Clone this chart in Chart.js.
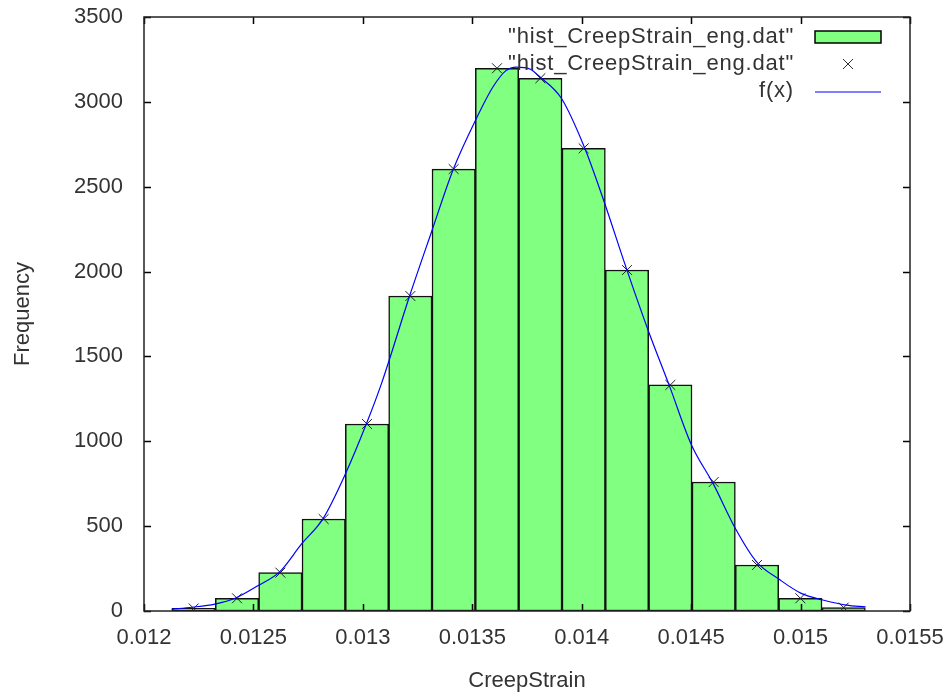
<!DOCTYPE html>
<html lang="en">

<head>
    <meta charset="UTF-8">
    <title>hist_CreepStrain_eng</title>
    <script src="https://cdn.jsdelivr.net/npm/chart.js"></script>
    <style>
        html, body {
            margin: 0;
            padding: 0;
            background: #fff;
        }

        #chartBox {
            width: 950px;
            height: 694px;
        }
    </style>
</head>

<body>
    <div id="chartBox">
        <canvas id="histCanvas"></canvas>
    </div>

    <script>
        // bin centres (CreepStrain) and counts
        const binCenters = [0.012227, 0.012425, 0.012623, 0.012821, 0.013019, 0.013217, 0.013415, 0.013613,
            0.013811, 0.014009, 0.014207, 0.014405, 0.014603, 0.014801, 0.014999, 0.015197];
        const frequencies = [15, 75, 226, 542, 1102, 1856, 2604, 3198, 3139, 2726, 2009, 1332, 760, 271, 75, 20];

        // fitted curve f(x)
        const fitX = [0.012126, 0.012220, 0.012324, 0.012416, 0.012522, 0.012621, 0.012720, 0.012819, 0.012918,
            0.013017, 0.013085, 0.013215, 0.013314, 0.013412, 0.013519, 0.013595, 0.013654, 0.013702, 0.013763,
            0.013808, 0.013907, 0.014014, 0.014097, 0.014204, 0.014303, 0.014402, 0.014501, 0.014600, 0.014706,
            0.014798, 0.014904, 0.015003, 0.015102, 0.015209, 0.015297];
        const fitY = [10, 22, 41, 75, 150, 232, 395, 546, 801,
            1106, 1340, 1862, 2235, 2599, 2903, 3089, 3184, 3205, 3194,
            3148, 3021, 2727, 2432, 2019, 1656, 1322, 980, 752, 477,
            291, 185, 104, 65, 35, 25];

        const xTickLabels = ['0.012', '0.0125', '0.013', '0.0135', '0.014', '0.0145', '0.015', '0.0155'];
        const yTickLabels = ['0', '500', '1000', '1500', '2000', '2500', '3000', '3500'];
        const seriesNames = ['"hist_CreepStrain_eng.dat"', '"hist_CreepStrain_eng.dat"', 'f(x)'];

        const textColor = '#333';
        const fontFamily = '"Liberation Sans", Arial, sans-serif';

        Chart.defaults.font.family = fontFamily;
        Chart.defaults.font.size = 22;
        Chart.defaults.color = textColor;

        // gnuplot style frame: border plus ticks pointing inwards on all four sides
        const framePlugin = {
            id: 'frame',
            afterDatasetsDraw(chart) {
                const { ctx, chartArea: a, scales } = chart;
                const len = 7;
                ctx.save();
                ctx.strokeStyle = '#000';
                ctx.lineWidth = 1.5;
                ctx.beginPath();
                scales.x.ticks.forEach(t => {
                    const px = Math.round(scales.x.getPixelForValue(t.value)) + 0.5;
                    ctx.moveTo(px, a.bottom);
                    ctx.lineTo(px, a.bottom - len);
                    ctx.moveTo(px, a.top);
                    ctx.lineTo(px, a.top + len);
                });
                scales.y.ticks.forEach(t => {
                    const py = Math.round(scales.y.getPixelForValue(t.value)) + 0.5;
                    ctx.moveTo(a.left, py);
                    ctx.lineTo(a.left + len, py);
                    ctx.moveTo(a.right, py);
                    ctx.lineTo(a.right - len, py);
                });
                ctx.stroke();
                ctx.strokeStyle = '#222';
                ctx.strokeRect(a.left, a.top, a.right - a.left, a.bottom - a.top);
                ctx.restore();
            }
        };

        // key in the top right corner, text right aligned with the sample after it
        const keyPlugin = {
            id: 'key',
            afterDraw(chart) {
                const { ctx } = chart;
                const textRight = 794;
                const sampleLeft = 815;
                const sampleRight = 881;
                const rowY = [37, 64, 91];
                ctx.save();
                ctx.font = '22px ' + fontFamily;
                ctx.letterSpacing = '0.8px';
                ctx.fillStyle = textColor;
                ctx.textAlign = 'right';
                ctx.textBaseline = 'middle';
                chart.data.datasets.forEach((ds, i) => {
                    const y = rowY[i];
                    ctx.fillText(ds.label, textRight, y);
                    if (ds.type === 'bar') {
                        ctx.fillStyle = ds.backgroundColor;
                        ctx.fillRect(sampleLeft, y - 6, sampleRight - sampleLeft, 12);
                        ctx.strokeStyle = '#000';
                        ctx.lineWidth = 1.5;
                        ctx.strokeRect(sampleLeft, y - 6, sampleRight - sampleLeft, 12);
                        ctx.fillStyle = textColor;
                    } else if (ds.showLine === false) {
                        const r = 5;
                        ctx.strokeStyle = '#333';
                        ctx.lineWidth = 1;
                        const cx = (sampleLeft + sampleRight) / 2;
                        ctx.beginPath();
                        ctx.moveTo(cx - r, y - r);
                        ctx.lineTo(cx + r, y + r);
                        ctx.moveTo(cx + r, y - r);
                        ctx.lineTo(cx - r, y + r);
                        ctx.stroke();
                    } else {
                        ctx.strokeStyle = ds.borderColor;
                        ctx.lineWidth = 1.2;
                        ctx.beginPath();
                        ctx.moveTo(sampleLeft, y + 1);
                        ctx.lineTo(sampleRight, y + 1);
                        ctx.stroke();
                    }
                });
                ctx.restore();
            }
        };

        const ctx = document.getElementById('histCanvas').getContext('2d');

        new Chart(ctx, {
            type: 'bar',
            data: {
                datasets: [{
                    type: 'bar',
                    label: seriesNames[0],
                    data: binCenters.map((x, i) => ({ x: x, y: frequencies[i] })),
                    backgroundColor: '#80ff80',
                    borderColor: '#111',
                    borderWidth: 1.5,
                    borderSkipped: false,
                    barPercentage: 1,
                    categoryPercentage: 1,
                    order: 3
                }, {
                    type: 'line',
                    label: seriesNames[1],
                    data: binCenters.map((x, i) => ({ x: x, y: frequencies[i] })),
                    showLine: false,
                    pointStyle: 'crossRot',
                    pointRadius: 7,
                    pointBorderWidth: 1,
                    pointBorderColor: '#222',
                    order: 2
                }, {
                    type: 'line',
                    label: seriesNames[2],
                    data: fitX.map((x, i) => ({ x: x, y: fitY[i] })),
                    borderColor: '#0000ff',
                    borderWidth: 1.2,
                    pointRadius: 0,
                    cubicInterpolationMode: 'monotone',
                    order: 1
                }]
            },
            options: {
                responsive: true,
                maintainAspectRatio: false,
                animation: false,
                layout: {
                    padding: { top: 17, right: 40, left: 0, bottom: 0 }
                },
                plugins: {
                    legend: { display: false },
                    tooltip: { enabled: false }
                },
                scales: {
                    x: {
                        type: 'linear',
                        offset: false,
                        min: 0.012,
                        max: 0.0155,
                        grid: { display: false, drawTicks: false },
                        border: { display: false },
                        ticks: {
                            stepSize: 0.0005,
                            padding: 14,
                            maxRotation: 0,
                            autoSkip: false,
                            callback: (v, i) => xTickLabels[i]
                        },
                        title: {
                            display: true,
                            text: 'CreepStrain',
                            padding: { top: 0, bottom: 0 }
                        },
                        afterFit: s => {
                            s.height = 83;
                            s.paddingLeft = 0;
                            s.paddingRight = 0;
                        }
                    },
                    y: {
                        min: 0,
                        max: 3500,
                        grid: { display: false, drawTicks: false },
                        border: { display: false },
                        ticks: {
                            stepSize: 500,
                            padding: 21,
                            callback: (v, i) => yTickLabels[i]
                        },
                        title: {
                            display: true,
                            text: 'Frequency',
                            padding: { top: 10, bottom: 0 }
                        },
                        afterFit: s => {
                            s.width = 144;
                            s.paddingTop = 0;
                            s.paddingBottom = 0;
                        }
                    }
                }
            },
            plugins: [framePlugin, keyPlugin]
        });
    </script>
</body>

</html>
